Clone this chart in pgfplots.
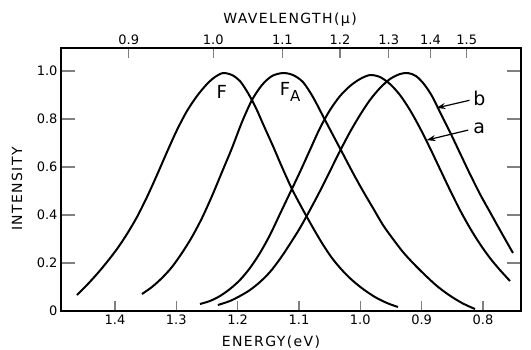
\documentclass[border=0pt]{standalone}
\usepackage{pgfplots}
\pgfplotsset{compat=1.18}
\usepackage{fontspec}
\setmainfont{DejaVu Sans}
\newfontfamily\labfont{DejaVu Sans}[LetterSpace=10]
\newfontfamily\tickfont{DejaVu Sans}
\usetikzlibrary{arrows.meta}

\pgfplotstableread{
E I
1.4620 0.0667
1.4457 0.1083
1.4293 0.1542
1.4130 0.2042
1.3967 0.2583
1.3804 0.3208
1.3641 0.3917
1.3478 0.4750
1.3315 0.5667
1.3152 0.6625
1.2989 0.7542
1.2826 0.8333
1.2663 0.8958
1.2500 0.9458
1.2370 0.9750
1.2239 0.9917
1.2092 0.9833
1.1962 0.9583
1.1831 0.9083
1.1701 0.8458
1.1571 0.7708
1.1424 0.6875
1.1277 0.6000
1.1114 0.5083
1.0951 0.4292
1.0788 0.3542
1.0625 0.2833
1.0462 0.2208
1.0299 0.1708
1.0136 0.1292
0.9956 0.0917
0.9761 0.0583
0.9565 0.0333
0.9386 0.0167
}\curveF

\pgfplotstableread{
E I
1.3560 0.0708
1.3397 0.1000
1.3234 0.1375
1.3071 0.1833
1.2908 0.2417
1.2745 0.3083
1.2581 0.3875
1.2418 0.4792
1.2255 0.5792
1.2092 0.6792
1.1929 0.7875
1.1766 0.8792
1.1603 0.9417
1.1440 0.9792
1.1261 0.9917
1.1098 0.9833
1.0935 0.9542
1.0772 0.8917
1.0609 0.8125
1.0446 0.7333
1.0282 0.6542
1.0119 0.5750
0.9956 0.5000
0.9793 0.4292
0.9630 0.3583
0.9467 0.3000
0.9304 0.2458
0.9141 0.2000
0.8945 0.1500
0.8750 0.1042
0.8554 0.0667
0.8342 0.0333
0.8130 0.0083
}\curveFA

\pgfplotstableread{
E I
1.2614 0.0292
1.2451 0.0417
1.2288 0.0625
1.2125 0.0917
1.1962 0.1292
1.1799 0.1792
1.1636 0.2417
1.1473 0.3167
1.1310 0.4042
1.1147 0.4917
1.0984 0.5792
1.0821 0.6708
1.0657 0.7625
1.0494 0.8375
1.0331 0.8958
1.0168 0.9375
1.0005 0.9667
0.9842 0.9833
0.9679 0.9750
0.9516 0.9458
0.9353 0.9000
0.9190 0.8375
0.9027 0.7625
0.8864 0.6792
0.8701 0.5917
0.8538 0.5042
0.8375 0.4208
0.8212 0.3458
0.8049 0.2792
0.7886 0.2208
0.7723 0.1708
0.7559 0.1250
}\curveA

\pgfplotstableread{
E I
1.2321 0.0250
1.2125 0.0417
1.1962 0.0625
1.1799 0.0875
1.1636 0.1208
1.1473 0.1625
1.1310 0.2167
1.1147 0.2792
1.0984 0.3458
1.0821 0.4208
1.0657 0.5000
1.0494 0.5833
1.0331 0.6667
1.0168 0.7458
1.0005 0.8167
0.9842 0.8792
0.9679 0.9292
0.9516 0.9667
0.9353 0.9875
0.9223 0.9917
0.9092 0.9792
0.8962 0.9458
0.8831 0.8958
0.8701 0.8292
0.8538 0.7458
0.8375 0.6583
0.8212 0.5708
0.8049 0.4875
0.7886 0.4125
0.7723 0.3375
0.7511 0.2417
}\curveB

\begin{document}
\begin{tikzpicture}
\begin{axis}[
  at={(0,0)}, anchor=south west,
  scale only axis, width=460pt, height=263pt,
  x dir=reverse,
  xmin=0.738, xmax=1.488, ymin=0, ymax=1.096,
  axis line style={line width=1.4pt},
  tick align=inside,
  xtick pos=bottom,
  ytick pos=both,
  xtick={0.8,0.9,1.0,1.1,1.2,1.3,1.4},
  xticklabels={0.8,0.9,1.0,1.1,1.2,1.3,1.4},
  ytick={0,0.2,0.4,0.6,0.8,1.0},
  yticklabels={0,0.2,0.4,0.6,0.8,1.0},
  xtick style={line width=1.2pt, /pgfplots/major tick length=10pt},
  ytick style={line width=1.2pt, /pgfplots/major tick length=14pt},
  ticklabel style={font=\tickfont\fontsize{13}{13}\selectfont},
  /pgf/number format/assume math mode=true,
  every axis x label/.style={at={(axis description cs:0.4565,-0.118)}, anchor=center},
  every axis y label/.style={at={(axis description cs:-0.0957,0.464)}, anchor=center, rotate=90},
  xlabel={\labfont\fontsize{14}{14}\selectfont ENERGY(eV)},
  ylabel={\labfont\fontsize{14}{14}\selectfont INTENSITY},
  clip=false,
]
\addplot[black, line width=2pt, smooth] table[x=E,y=I] {\curveF};
\addplot[black, line width=2pt, smooth] table[x=E,y=I] {\curveFA};
\addplot[black, line width=2pt, smooth] table[x=E,y=I] {\curveA};
\addplot[black, line width=2pt, smooth] table[x=E,y=I] {\curveB};
\node[font=\fontsize{18}{18}\selectfont] at (axis cs:1.226,0.912) {F};
\node[font=\fontsize{18}{18}\selectfont, anchor=west] at (axis cs:1.137,0.912) {F\raisebox{-6pt}{\fontsize{15}{15}\selectfont A}};
\node[font=\fontsize{19}{19}\selectfont] at (axis cs:0.806,0.885) {b};
\node[font=\fontsize{19}{19}\selectfont] at (axis cs:0.806,0.760) {a};
\draw[line width=1.2pt, -{Stealth[length=9pt,width=6pt]}] (axis cs:0.822,0.878) -- (axis cs:0.876,0.846);
\draw[line width=1.2pt, -{Stealth[length=9pt,width=6pt]}] (axis cs:0.824,0.754) -- (axis cs:0.892,0.712);
\end{axis}
\begin{axis}[
  at={(0,0)}, anchor=south west,
  scale only axis, width=460pt, height=263pt,
  x dir=reverse,
  xmin=0.738, xmax=1.488, ymin=0, ymax=1.096,
  axis x line*=top,
  hide y axis,
  axis line style={line width=1.4pt},
  tick align=inside,
  xtick={1.3776,1.2398,1.1271,1.0332,0.9537,0.8856,0.8265},
  xticklabels={0.9,1.0,1.1,1.2,1.3,1.4,1.5},
  xtick style={line width=1.2pt, /pgfplots/major tick length=10pt},
  ticklabel style={font=\tickfont\fontsize{13}{13}\selectfont},
  /pgf/number format/assume math mode=true,
  every axis x label/.style={at={(axis description cs:0.498,1.106)}, anchor=center},
  xlabel={\labfont\fontsize{14}{14}\selectfont WAVELENGTH(μ)},
]
\end{axis}
\pgfresetboundingbox
\useasboundingbox (-61pt,-38pt) rectangle (470pt,311pt);
\end{tikzpicture}
\end{document}
